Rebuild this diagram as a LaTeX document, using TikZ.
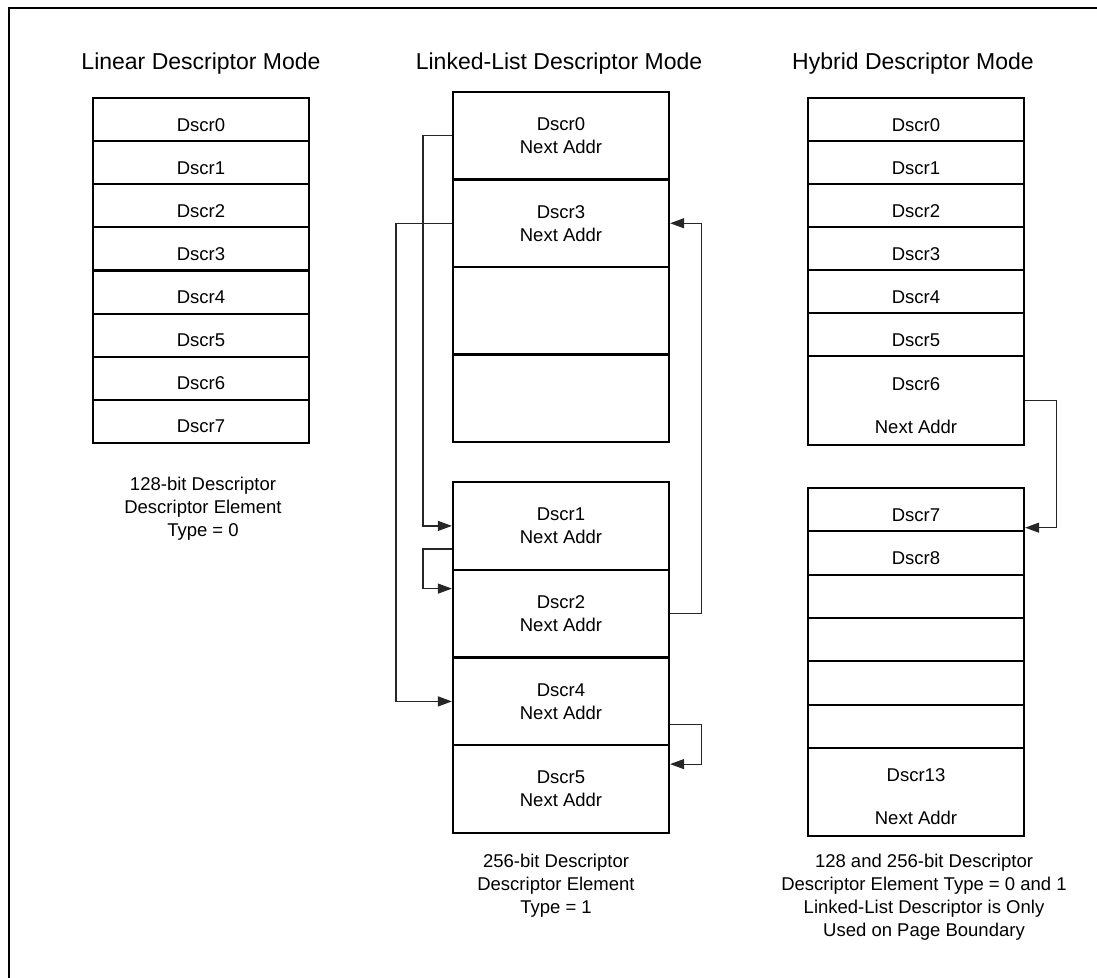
\documentclass[tikz,border=0pt]{standalone}
\usepackage{fontspec}
\setmainfont{Liberation Sans}
\usetikzlibrary{arrows.meta}
\newcommand\cellfont{\fontsize{18.5}{23}\selectfont}
\newcommand\headfont{\fontsize{23}{27}\selectfont}

\begin{document}
\begin{tikzpicture}[x=1pt,y=-1pt,
  cell/.style={draw,line width=2.2pt,minimum width=216pt,minimum height=#1,
    inner sep=0pt,align=center,font=\cellfont},
  cell/.default=43.125pt,
  low/.style={text height=23pt,text depth=0pt},
  lowtwo/.style={text height=65pt,text depth=0pt},
  head/.style={anchor=base,font=\headfont},
  note/.style={anchor=base,align=center,font=\cellfont},
  link/.style={line width=1.2pt,black!85,-{Triangle[length=14pt,width=10pt]}}]
\useasboundingbox (0,0) rectangle (1097,977);
\draw[line width=2pt] (8.5,990) -- (8.5,7.5) -- (1110,7.5);

% linear mode
\node[head] (hl) at (201,69) {Linear Descriptor Mode};
\foreach \i in {0,...,7}
  \node[cell,low] (l\i) at (201,{98+43.125*(\i+.5)}) {Dscr\i};
\node[note] (nl) at (203,536.5) {128-bit Descriptor\\Descriptor Element\\Type = 0};

% linked-list mode
\node[head] (hm) at (559,69) {Linked-List Descriptor Mode};
\node[cell=87.5pt] (m0) at (561,135.75) {Dscr0\\Next Addr};
\node[cell=87.5pt] (m3) at (561,223.25) {Dscr3\\Next Addr};
\node[cell=87.5pt] (mx) at (561,310.75) {};
\node[cell=87.5pt] (my) at (561,398.25) {};
\node[cell=87.75pt] (m1) at (561,525.9) {Dscr1\\Next Addr};
\node[cell=87.75pt] (m2) at (561,613.6) {Dscr2\\Next Addr};
\node[cell=87.75pt] (m4) at (561,701.4) {Dscr4\\Next Addr};
\node[cell=87.75pt] (m5) at (561,789.1) {Dscr5\\Next Addr};
\node[note] (nm) at (556,913.5) {256-bit Descriptor\\Descriptor Element\\Type = 1};

\draw[link] (m0.west) -- ++(-29,0) |- (m1.west);
\draw[link] (m3.west) -- ++(-56,0) |- (m4.west);
\draw[link] ([yshift=-23pt]m1.west) -- ++(-29,0) |- ([yshift=25pt]m2.west);
\draw[link] (m2.east) -- ++(31,0) |- (m3.east);
\draw[link] ([yshift=-23pt]m4.east) -- ++(31,0) |- ([yshift=25pt]m5.east);

% hybrid mode
\node[head] (hr) at (913,69) {Hybrid Descriptor Mode};
\foreach \i in {0,...,5}
  \node[cell=43pt,low] (r\i) at (916,{98+43*(\i+.5)}) {Dscr\i};
\node[cell=89pt,lowtwo] (r6) at (916,400.5) {Dscr6\\[20pt]Next Addr};
\foreach \i in {7,...,12}
  \node[cell=43.33pt,low] (r\i) at (916,{488+43.33*(\i-6.5)}) {\ifnum\i<9 Dscr\i\fi};
\node[cell=88pt,lowtwo] (r13) at (916,792) {Dscr13\\[20pt]Next Addr};
\node[note] (nr) at (924,936.5) {128 and 256-bit Descriptor\\Descriptor Element Type = 0 and 1\\
  Linked-List Descriptor is Only\\Used on Page Boundary};

\draw[link] (r6.east) -- ++(31,0) |- ([yshift=-18pt]r7.east);
\end{tikzpicture}
\end{document}
